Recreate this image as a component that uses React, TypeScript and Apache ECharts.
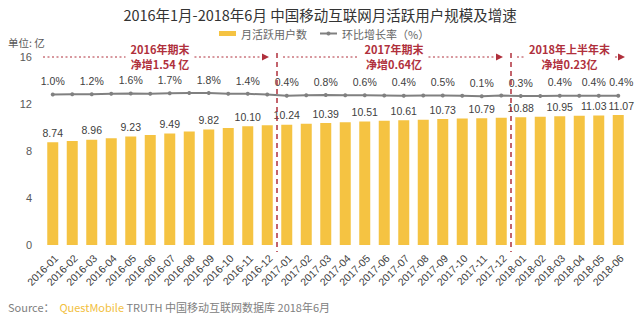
import React, { useEffect, useRef } from "react";
import * as echarts from "echarts";

const months = [
  "2016-01", "2016-02", "2016-03", "2016-04", "2016-05", "2016-06",
  "2016-07", "2016-08", "2016-09", "2016-10", "2016-11", "2016-12",
  "2017-01", "2017-02", "2017-03", "2017-04", "2017-05", "2017-06",
  "2017-07", "2017-08", "2017-09", "2017-10", "2017-11", "2017-12",
  "2018-01", "2018-02", "2018-03", "2018-04", "2018-05", "2018-06",
];

// 月活跃用户数 (亿)
const activeUsers = [
  8.74, 8.85, 8.96, 9.09, 9.23, 9.36, 9.49, 9.66, 9.82, 9.96, 10.1, 10.2,
  10.24, 10.32, 10.39, 10.45, 10.51, 10.57, 10.61, 10.67, 10.73, 10.77, 10.79, 10.84,
  10.88, 10.91, 10.95, 10.99, 11.03, 11.07,
];

// 环比增长率 (%)
const growthRate = [
  1.0, 1.2, 1.2, 1.4, 1.6, 1.5, 1.7, 1.8, 1.8, 1.5, 1.4, 1.0,
  0.4, 0.7, 0.8, 0.6, 0.6, 0.5, 0.4, 0.5, 0.5, 0.4, 0.1, 0.5,
  0.3, 0.3, 0.4, 0.4, 0.4, 0.4,
];

// indices of the months whose values are printed
const labeledIndex = [0, 2, 4, 6, 8, 10, 12, 14, 16, 18, 20, 22, 24, 26, 28, 29];

const yTicks = [0, 4, 8, 12, 16];

const periodFrom = ["2016-01", "2017-01", "2018-01"];
const periodTo = ["2016-12", "2017-12", "2018-06"];
const periodTitle = ["2016年期末", "2017年期末", "2018年上半年末"];
const periodNote = ["净增1.54 亿", "净增0.64亿", "净增0.23亿"];

const RED = "#B0303C";
const FONT = '"Liberation Sans", Arial, "Noto Sans CJK SC", sans-serif';
const CJK = '"Noto Sans CJK SC", "Liberation Sans", sans-serif';

function measure(text: string, font: string): number {
  const c = document.createElement("canvas").getContext("2d");
  if (!c) return text.length * 10;
  c.font = font;
  return c.measureText(text).width;
}

// the two last labels sit close together, as in the reference
function labelShift(i: number): number[] {
  if (i === months.length - 2) return [-5, 0];
  if (i === months.length - 1) return [3, 0];
  return [0, 0];
}

export default function App() {
  const ref = useRef<HTMLDivElement>(null);

  useEffect(() => {
    if (!ref.current) return;
    const chart = echarts.init(ref.current, undefined, { renderer: "svg" });

    const barData = activeUsers.map((v, i) => ({ value: v, label: { offset: labelShift(i) } }));
    const lineData = growthRate.map((v, i) => ({ value: v, label: { offset: labelShift(i) } }));

    const option: any = {
      animation: false,
      textStyle: { fontFamily: FONT },
      title: {
        text: "2016年1月-2018年6月 中国移动互联网月活跃用户规模及增速",
        left: "center",
        top: 2,
        textStyle: { fontSize: 14.5, fontWeight: "normal", color: "#333333", fontFamily: CJK },
      },
      legend: {
        left: 214,
        top: 23,
        itemWidth: 17,
        itemHeight: 5,
        itemGap: 12,
        textStyle: { fontSize: 11, color: "#666666", fontFamily: CJK },
        data: [
          { name: "月活跃用户数", icon: "rect" },
          { name: "环比增长率（%）" },
        ],
      },
      grid: {
        left: 43,
        right: 12,
        top: 57,
        bottom: 75,
        containLabel: false,
        outerBoundsMode: "none",
      },
      xAxis: {
        type: "category",
        data: months,
        axisLine: { show: false },
        axisTick: { show: false },
        axisLabel: {
          rotate: 45,
          interval: 0,
          fontSize: 10.5,
          color: "#404040",
          margin: 8,
          verticalAlign: "top",
        },
      },
      yAxis: [
        {
          type: "value",
          min: yTicks[0],
          max: yTicks[yTicks.length - 1],
          interval: yTicks[1] - yTicks[0],
          splitLine: { show: false },
          axisLine: { show: false },
          axisTick: { show: false },
          axisLabel: { fontSize: 11, color: "#595959", margin: 11 },
        },
        {
          type: "value",
          min: -79,
          max: 21,
          show: false,
          splitLine: { show: false },
        },
      ],
      series: [
        {
          name: "月活跃用户数",
          type: "bar",
          data: barData,
          barWidth: 11,
          itemStyle: { color: "#F5C342" },
          label: {
            show: true,
            position: "top",
            distance: 4,
            fontSize: 10.5,
            color: "#404040",
            formatter: (p: any) =>
              labeledIndex.includes(p.dataIndex) ? Number(p.value).toFixed(2) : "",
          },
        },
        {
          name: "环比增长率（%）",
          type: "line",
          yAxisIndex: 1,
          data: lineData,
          symbol: "circle",
          symbolSize: 4,
          lineStyle: { color: "#808080", width: 2 },
          itemStyle: { color: "#808080" },
          label: {
            show: true,
            position: "top",
            distance: 6,
            fontSize: 10.5,
            color: "#404040",
            formatter: (p: any) =>
              labeledIndex.includes(p.dataIndex) ? Number(p.value).toFixed(1) + "%" : "",
          },
        },
      ],
    };

    chart.setOption(option);

    const px = (m: string) => chart.convertToPixel({ xAxisIndex: 0 }, m) as number;
    const band = px(months[1]) - px(months[0]);
    const yTop = chart.convertToPixel({ yAxisIndex: 0 }, yTicks[yTicks.length - 1]) as number;
    const yBottom = chart.convertToPixel({ yAxisIndex: 0 }, yTicks[0]) as number;

    const annFont = `bold 11px "Noto Sans CJK SC"`;
    const annStyle = {
      fontSize: 11,
      fontWeight: "bold",
      fill: RED,
      fontFamily: CJK,
      align: "center",
      verticalAlign: "middle",
    };
    const graphics: any[] = [];
    periodFrom.forEach((from, i) => {
      const x0 = px(from) - band / 2;
      const x1 = px(periodTo[i]) + band / 2;
      const cx = (x0 + x1) / 2;
      const isLast = i === periodFrom.length - 1;
      const lineStart = i === 0 ? x0 : x0 + 6;
      const tip = isLast ? x1 - 3 : x1 - 8;
      const w = Math.max(measure(periodTitle[i], annFont), measure(periodNote[i], annFont)) + 10;
      const dotted = { stroke: RED, lineWidth: 1, lineDash: [2, 2.5] };
      graphics.push({
        type: "line",
        z: 10,
        shape: { x1: lineStart, y1: yTop, x2: cx - w / 2, y2: yTop },
        style: dotted,
      });
      graphics.push({
        type: "line",
        z: 10,
        shape: { x1: cx + w / 2, y1: yTop, x2: tip - 6, y2: yTop },
        style: dotted,
      });
      graphics.push({
        type: "polygon",
        z: 10,
        shape: { points: [[tip, yTop], [tip - 7, yTop - 3.5], [tip - 7, yTop + 3.5]] },
        style: { fill: RED },
      });
      graphics.push({
        type: "text",
        z: 12,
        x: cx,
        y: yTop - 8,
        style: { ...annStyle, text: periodTitle[i] },
      });
      graphics.push({
        type: "text",
        z: 12,
        x: cx,
        y: yTop + 7,
        style: { ...annStyle, text: periodNote[i] },
      });
      if (i > 0) {
        graphics.push({
          type: "line",
          z: 11,
          shape: { x1: x0, y1: yTop - 4, x2: x0, y2: yBottom + 7 },
          style: { stroke: RED, lineWidth: 1.5, lineDash: [5, 4] },
        });
      }
    });

    graphics.push({
      type: "text",
      left: 8,
      top: 37,
      style: { text: "单位: 亿", fontSize: 10.5, fill: "#595959", fontFamily: CJK },
    });

    graphics.push({
      type: "text",
      left: 8,
      top: 301,
      style: {
        text: "{a|Source：  }{b|QuestMobile}{a| TRUTH 中国移动互联网数据库 2018年6月}",
        fontFamily: CJK,
        rich: {
          a: { fontSize: 11, fill: "#808080", fontFamily: CJK },
          b: { fontSize: 11, fill: "#F2C040", fontFamily: CJK },
        },
      },
    });

    chart.setOption({ graphic: graphics });

    return () => chart.dispose();
  }, []);

  return (
    <div
      ref={ref}
      style={{ position: "fixed", left: 0, top: 0, width: 640, height: 320, background: "#ffffff" }}
    />
  );
}
